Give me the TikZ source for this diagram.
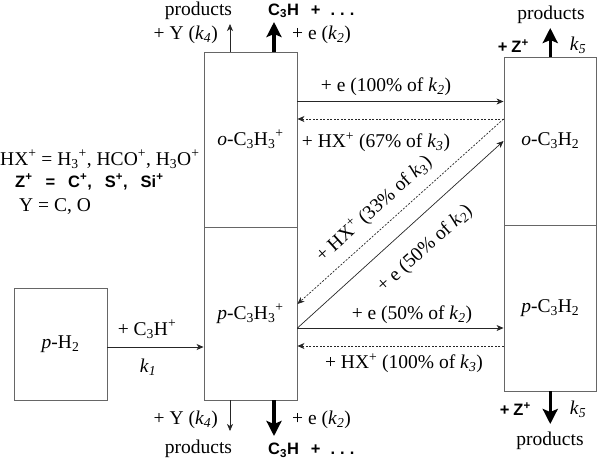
\documentclass[tikz,border=0pt]{standalone}
\usepackage{fontspec}
\setmainfont{Liberation Serif}
\setsansfont{Liberation Sans}
\usetikzlibrary{arrows.meta}
\newcommand\kk[2]{\textit{k}\textsubscript{\textit{#2}}}
\newcommand\sbb[1]{\textsubscript{#1}}
\newcommand\spp[1]{\textsuperscript{#1}}
\begin{document}
\begin{tikzpicture}[x=1pt,y=-1pt,
  box/.style={draw=black!60, line width=0.9pt, minimum width=93pt, inner sep=0pt, font=\fontsize{19.5}{21}\selectfont},
  thinarr/.style={draw=black!85, line width=0.7pt, -{Stealth[length=7pt,width=6pt,inset=2pt]}},
  dasharr/.style={thinarr, dash pattern=on 2pt off 1.5pt},
  thickarr/.style={line width=3.5pt, -{Stealth[length=15pt,width=15pt,inset=3pt]}},
  lbl/.style={inner sep=0pt, font=\fontsize{19.5}{21}\selectfont},
  bl/.style={inner sep=0pt, font=\fontsize{16.5}{18}\selectfont\sffamily\bfseries}]
\useasboundingbox (0,0) rectangle (597,459);

% boxes
\node[box, minimum height=112pt] (pH2) at (60.5,344) {\raisebox{-3pt}{\textit{p}-H\sbb{2}}};
\node[box, minimum height=175pt] (oC3H3) at (250.5,139.5) {\textit{o}-C\sbb{3}H\sbb{3}\spp{+}};
\node[box, minimum height=173pt] (pC3H3) at (250.5,313.5) {\raisebox{-4pt}{\textit{p}-C\sbb{3}H\sbb{3}\spp{+}}};
\node[box, minimum width=92.5pt, minimum height=168pt] (oC3H2) at (550.25,141) {\textit{o}-C\sbb{3}H\sbb{2}};
\node[box, minimum width=92.5pt, minimum height=166pt] (pC3H2) at (550.25,308) {\textit{p}-C\sbb{3}H\sbb{2}};

% connector end points on the boxes
\coordinate (s1) at ([yshift=-3pt]pH2.east);
\coordinate (a2) at ([yshift=38pt]oC3H3.east);
\coordinate (a3) at ([yshift=22pt]oC3H2.west);
\coordinate (a4) at ([yshift=-14.5pt]pC3H3.east);
\coordinate (a5) at ([yshift=9.5pt]pC3H3.east);
\coordinate (a7) at ([yshift=-38pt]pC3H2.west);

% horizontal and diagonal connectors
\draw[thinarr] (s1) -- (s1 -| pC3H3.west);
\draw[thinarr] (a2) -- (a2 -| oC3H2.west);
\draw[dasharr] (a3) -- (a3 -| oC3H3.east);
\draw[thinarr] (a4) -- (oC3H2.west);
\draw[dasharr] (a3) -- (a5);
\draw[thinarr] (a4) -- (a4 -| pC3H2.west);
\draw[dasharr] (a7) -- (a7 -| pC3H3.east);

% labels of connectors
\node[lbl] (lC3H) at (147,329) {+ C\sbb{3}H\spp{+}};
\node[lbl] (lk1) at (148,367) {\kk{k}{1}};
\node[lbl] (l2) at (386,87) {+ e (100\% of \kk{k}{2})};
\node[lbl] (l3) at (376,142) {+ HX\spp{+} (67\% of \kk{k}{3})};
\node[lbl, rotate=42] (ld1) at (374,209) {+ HX\spp{+} (33\% of \kk{k}{3})};
\node[lbl, rotate=42] (ld2) at (425,249) {+ e (50\% of \kk{k}{2})};
\node[lbl] (l6) at (412,315) {+ e (50\% of \kk{k}{2})};
\node[lbl] (l7) at (404,363) {+ HX\spp{+} (100\% of \kk{k}{3})};

% vertical arrows, middle box
\coordinate (t1) at ([xshift=-20.5pt]oC3H3.north);
\coordinate (t1e) at (230,24);
\coordinate (t2) at ([xshift=23.5pt]oC3H3.north);
\coordinate (t2e) at (274,22);
\coordinate (b1) at ([xshift=-20.5pt]pC3H3.south);
\coordinate (b1e) at (230,431);
\coordinate (b2) at ([xshift=23.5pt]pC3H3.south);
\coordinate (b2e) at (274,436);
\draw[thinarr] (t1) -- (t1e);
\draw[thickarr] (t2) -- (t2e);
\draw[thinarr] (b1) -- (b1e);
\draw[thickarr] (b2) -- (b2e);

\node[lbl] (prodTL) at (198.5,11) {products};
\node[bl, anchor=west] (c3hT) at (268,11) {C\sbb{3}H\hspace{12pt}+\hspace{10pt}.\hspace{5pt}.\hspace{5pt}.};
\node[lbl, anchor=east] (yT) at (218,35) {+ Y (\kk{k}{4})};
\node[lbl, anchor=west] (eT) at (292,35) {+ e (\kk{k}{2})};
\node[lbl] (prodBL) at (198.5,449) {products};
\node[bl, anchor=west] (c3hB) at (268,450) {C\sbb{3}H\hspace{12pt}+\hspace{10pt}.\hspace{5pt}.\hspace{5pt}.};
\node[lbl, anchor=east] (yB) at (218,420) {+ Y (\kk{k}{4})};
\node[lbl, anchor=west] (eB) at (292,420) {+ e (\kk{k}{2})};

% vertical arrows, right boxes
\coordinate (rt) at (550.25,28);
\coordinate (rb) at (550.25,424);
\draw[thickarr] (oC3H2.north) -- (rt);
\draw[thickarr] (pC3H2.south) -- (rb);
\node[lbl] (prodTR) at (551,15) {products};
\node[bl, anchor=east] (zT) at (529,46) {+\hspace{4pt}Z\spp{+}};
\node[lbl] (k5T) at (578,45) {\kk{k}{5}};
\node[lbl] (prodBR) at (550,441) {products};
\node[bl, anchor=east] (zB) at (531,409) {+\hspace{4pt}Z\spp{+}};
\node[lbl] (k5B) at (578,409) {\kk{k}{5}};

% legend
\node[lbl, anchor=west] (legHX) at (0,159) {HX\spp{+} = H\sbb{3}\spp{+}, HCO\spp{+}, H\sbb{3}O\spp{+}};
\node[bl, anchor=west] (legZ) at (15,182) {Z\spp{+}\hspace{13pt}=\hspace{13pt}C\spp{+},\hspace{13pt}S\spp{+},\hspace{13pt}Si\spp{+}};
\node[lbl, anchor=west] (legY) at (19,207) {Y = C, O};
\end{tikzpicture}
\end{document}
